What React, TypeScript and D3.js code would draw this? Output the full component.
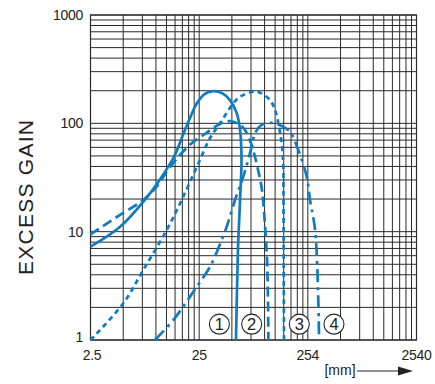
import React from "react";
import * as d3 from "d3";

const xTickValues = [2.54, 25.4, 254, 2540];
const xTickLabels = ["2.5", "25", "254", "2540"];
const yTickValues = [1, 10, 100, 1000];
const yTickLabels = ["1", "10", "100", "1000"];

// Curve 1: solid
const solidX = [2.54, 4.75, 8.96, 12.3, 15.2, 18.0, 20.9, 24.3, 28.7, 34.3, 41.2, 48.8, 56.2, 60.4, 62.3, 60.4, 57.8, 55.4];
const solidY = [7.27, 11.1, 22.6, 35.6, 51, 78, 112, 154, 187, 198, 190, 164, 125, 86.9, 45.9, 19.6, 6.77, 1];

// Curve 2: long dash
const longDashX = [2.54, 4.75, 7.77, 10.3, 13.1, 16.9, 21.8, 28.7, 37.9, 48.8, 60.4, 67.1, 77.7, 86.4, 96.1, 102.4, 107, 109.2, 110];
const longDashY = [9.46, 14.3, 19.6, 26, 37.1, 51, 65.8, 79.7, 96.6, 105, 96.6, 86.9, 61.8, 41.2, 24.3, 11.5, 5.48, 2.34, 1];

// Curve 3: short dash
const shortDashX = [2.54, 5.09, 7.77, 12.8, 18.1, 25.8, 32, 39.5, 52.3, 60.4, 80, 92.2, 113.9, 126.7, 136, 146, 151, 151.6, 153.3];
const shortDashY = [1, 2.18, 4.43, 10.4, 21, 45.9, 73.2, 100, 153, 176, 196, 192, 164, 133, 100, 65.4, 39.8, 19.6, 1];

// Curve 4: dash-dot
const dashDotX = [9.96, 14.7, 18.1, 24.1, 32, 40.9, 45.5, 54.3, 64.7, 77.3, 82.9, 95.5, 118, 146, 174, 207.5, 248, 266, 296, 317, 322];
const dashDotY = [1, 1.53, 2.03, 3.1, 4.75, 8.38, 11.1, 19.6, 32.2, 60.9, 80.9, 96.6, 101, 94.5, 83.7, 56.7, 32.2, 19.6, 10.4, 2.34, 1];

const markerLabels = ["1", "2", "3", "4"];
const markerX = [39, 77.3, 212, 442];
const markerY = [1.4, 1.4, 1.4, 1.4];

const BLUE = "#0f7cc1";
const GRID = "#2a2a2a";
const FONT = "'Liberation Sans', Arial, sans-serif";

export default function App() {
  const x = d3.scaleLog().domain([2.54, 2540]).range([90.5, 416.5]);
  const y = d3.scaleLog().domain([1, 1000]).range([340, 15]);

  const vGrid: number[] = [];
  [2.54, 25.4, 254].forEach((d) => {
    for (let k = 1; k < 10; k++) vGrid.push(d * k);
  });
  vGrid.push(2540);
  const hGrid: number[] = [];
  [1, 10, 100].forEach((d) => {
    for (let k = 1; k < 10; k++) hGrid.push(d * k);
  });
  hGrid.push(1000);

  const line = d3
    .line<[number, number]>()
    .x((d) => x(d[0]))
    .y((d) => y(d[1]))
    .curve(d3.curveCatmullRom.alpha(0.5));

  const zip = (a: number[], b: number[]) => a.map((v, i) => [v, b[i]] as [number, number]);

  const curves = [
    { pts: zip(solidX, solidY), dash: undefined },
    { pts: zip(longDashX, longDashY), dash: "10,5" },
    { pts: zip(shortDashX, shortDashY), dash: "5,4" },
    { pts: zip(dashDotX, dashDotY), dash: "13,5,3,5" },
  ];

  const [x0, x1] = x.range();
  const [y0, y1] = y.range();

  return (
    <svg width={435} height={384} style={{ display: "block", position: "absolute", left: 0, top: 0 }}>
      <rect width={435} height={384} fill="#fff" />
      {vGrid.map((v, i) => (
        <line key={"v" + i} x1={x(v)} x2={x(v)} y1={y1} y2={y0} stroke={GRID} strokeWidth={1} />
      ))}
      {hGrid.map((v, i) => (
        <line key={"h" + i} x1={x0} x2={x1} y1={y(v)} y2={y(v)} stroke={GRID} strokeWidth={1} />
      ))}
      <rect x={x0} y={y1} width={x1 - x0} height={y0 - y1} fill="none" stroke={GRID} strokeWidth={1.2} />
      {curves.map((c, i) => (
        <path key={"c" + i} d={line(c.pts) || ""} fill="none" stroke={BLUE} strokeWidth={2.7} strokeDasharray={c.dash} />
      ))}
      {markerLabels.map((m, i) => (
        <g key={"m" + i} transform={`translate(${x(markerX[i])},${y(markerY[i])})`}>
          <circle r={10} fill="#fff" stroke="#222" strokeWidth={1.1} />
          <text textAnchor="middle" y={5.8} fontSize={16.5} fontFamily={FONT} fill="#222">{m}</text>
        </g>
      ))}
      {yTickValues.map((v, i) => (
        <text key={"yt" + i} x={83} y={y(v) + (v === 1 ? 2 : 5)} textAnchor="end" fontSize={14} fontFamily={FONT} fill="#222" letterSpacing={-0.3}>
          {yTickLabels[i]}
        </text>
      ))}
      {xTickValues.map((v, i) => (
        <text key={"xt" + i} x={x(v) + (i === 0 ? 1.5 : 0)} y={360} textAnchor="middle" fontSize={14} fontFamily={FONT} fill="#222" letterSpacing={-0.3}>
          {xTickLabels[i]}
        </text>
      ))}
      <text transform="translate(33.3,197.5) rotate(-90)" textAnchor="middle" fontSize={21} fontFamily={FONT} fill="#222" textLength={155} lengthAdjust="spacing">
        EXCESS GAIN
      </text>
      <text x={340} y={375} textAnchor="middle" fontSize={14} fontFamily={FONT} fill="#222">[mm]</text>
      <line x1={357} x2={400} y1={371} y2={371} stroke="#222" strokeWidth={1.2} />
      <path d="M398,366.5 L413,371 L398,375.5 Z" fill="#222" />
    </svg>
  );
}
